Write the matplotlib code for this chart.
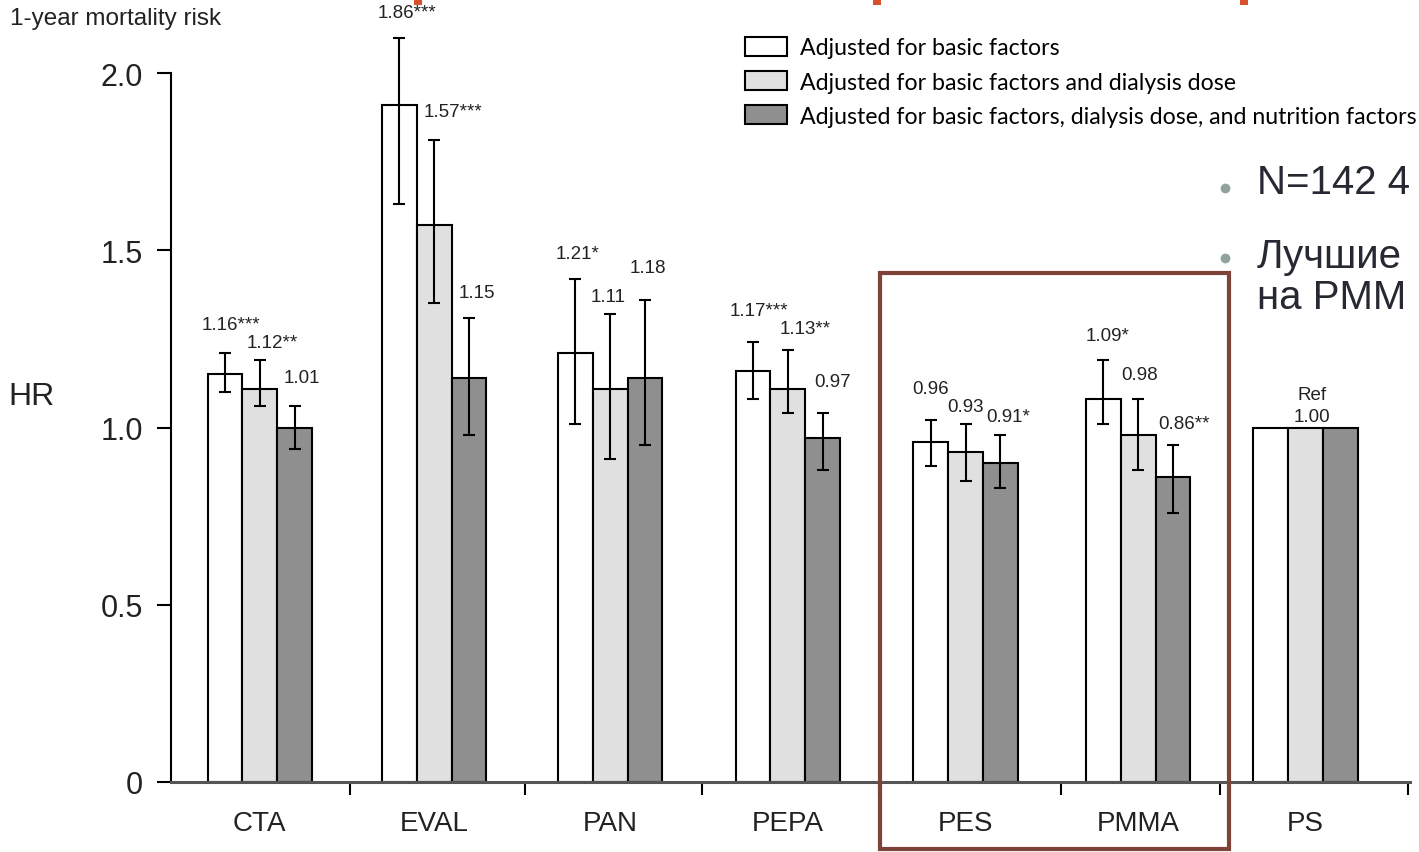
import numpy as np
import matplotlib.pyplot as plt
from matplotlib.patches import Rectangle
from matplotlib.lines import Line2D

plt.rcParams['font.family'] = ['Liberation Sans', 'DejaVu Sans']

groups = ['CTA', 'EVAL', 'PAN', 'PEPA', 'PES', 'PMMA', 'PS']
series = ['Adjusted for basic factors',
          'Adjusted for basic factors and dialysis dose',
          'Adjusted for basic factors, dialysis dose, and nutrition factors']

# bar heights as drawn in the figure
hr_basic = [1.15, 1.91, 1.21, 1.16, 0.96, 1.08, 1.00]
hr_dose = [1.11, 1.57, 1.11, 1.11, 0.93, 0.98, 1.00]
hr_nutr = [1.00, 1.14, 1.14, 0.97, 0.90, 0.86, 1.00]

# confidence intervals (PS is the reference, no interval)
lo_basic = [1.10, 1.63, 1.01, 1.08, 0.89, 1.01]
hi_basic = [1.21, 2.10, 1.42, 1.24, 1.02, 1.19]
lo_dose = [1.06, 1.35, 0.91, 1.04, 0.85, 0.88]
hi_dose = [1.19, 1.81, 1.32, 1.22, 1.01, 1.08]
lo_nutr = [0.94, 0.98, 0.95, 0.88, 0.83, 0.76]
hi_nutr = [1.06, 1.31, 1.36, 1.04, 0.98, 0.95]

lab_basic = ['1.16***', '1.86***', '1.21*', '1.17***', '0.96', '1.09*']
lab_dose = ['1.12**', '1.57***', '1.11', '1.13**', '0.93', '0.98']
lab_nutr = ['1.01', '1.15', '1.18', '0.97', '0.91*', '0.86**']

# layout of the value labels: height (HR units) and left shift from bar centre (px)
laby_basic = [1.29, 2.17, 1.49, 1.33, 1.11, 1.26]
laby_dose = [1.24, 1.89, 1.37, 1.28, 1.06, 1.15]
laby_nutr = [1.14, 1.38, 1.45, 1.13, 1.03, 1.01]
labdx_basic = [-23, -22, -20, -23, -19, -18]
labdx_dose = [-13, -11, -20, -8, -18, -17]
labdx_nutr = [-11, -10, -15, -8, -14, -15]

xpos = np.array([0, 1, 2.01, 3.03, 4.05, 5.04, 6])
seps = [0.52, 1.52, 2.54, 3.55, 4.6, 5.51, 6.59]

W, H = 1419, 853
fig = plt.figure(figsize=(W / 100, H / 100), dpi=100)
ax = fig.add_axes([171 / W, 70 / H, (1410 - 171) / W, 783 / H])

w = 0.2
fills = ['white', '#e0e0e0', '#8f8f8f']
hrs = [hr_basic, hr_dose, hr_nutr]
los = [lo_basic, lo_dose, lo_nutr]
his = [hi_basic, hi_dose, hi_nutr]
labs = [lab_basic, lab_dose, lab_nutr]
labys = [laby_basic, laby_dose, laby_nutr]
labdxs = [labdx_basic, labdx_dose, labdx_nutr]

for k in range(3):
    xs = xpos + (k - 1) * w
    h = np.array(hrs[k])
    ax.bar(xs, h, w, color=fills[k], edgecolor='black', linewidth=1.5, label=series[k], zorder=2)
    n = len(los[k])
    err = [h[:n] - np.array(los[k]), np.array(his[k]) - h[:n]]
    ax.errorbar(xs[:n], h[:n], yerr=err, fmt='none', ecolor='black', elinewidth=1.5,
                capsize=4, capthick=1.5, zorder=3, clip_on=False)
    for xi, t, yy, dx in zip(xs, labs[k], labys[k], labdxs[k]):
        ax.annotate(t, (xi, yy), xytext=(dx * 0.72, 0), textcoords='offset points',
                    ha='left', va='center', fontsize=13.5, color='#222222')

ax.text(xpos[6] + 0.04, 1.094, 'Ref', ha='center', va='center', fontsize=13.5, color='#222222')
ax.text(xpos[6] + 0.04, 1.032, '1.00', ha='center', va='center', fontsize=13.5, color='#222222')

ax.set_xlim(-0.51, 6.6)
ax.set_ylim(0, 783 / 354.5)
for s in ['top', 'right']:
    ax.spines[s].set_visible(False)
ax.spines['left'].set_bounds(0, 2)
ax.spines['left'].set_linewidth(1.5)
ax.spines['bottom'].set_linewidth(2.2)
ax.spines['bottom'].set_color('#555555')

ax.set_yticks([0, 0.5, 1.0, 1.5, 2.0])
ax.set_yticklabels(['0', '0.5', '1.0', '1.5', '2.0'])
ax.tick_params(axis='y', length=10, width=1.5, pad=10, labelsize=22, labelcolor='#222222')
ax.set_xticks(xpos)
ax.set_xticklabels(groups)
ax.set_xticks(seps, minor=True)
ax.tick_params(axis='x', which='major', length=0, pad=20, labelsize=20, labelcolor='#222222')
ax.tick_params(axis='x', which='minor', length=9, width=1.5)

ax.legend(loc='upper left', bbox_to_anchor=(745 / W, 1 - 38 / H), bbox_transform=fig.transFigure,
          frameon=False, prop={'family': 'Lato', 'size': 16.7}, handlelength=1.8, handleheight=0.88,
          labelspacing=0.55, handletextpad=0.58, borderpad=0, borderaxespad=0)

fig.text(10 / W, 1 - 19 / H, '1-year mortality risk', fontsize=17.5, va='center', ha='left', color='#222222')
fig.text(8 / W, 1 - 397 / H, 'HR', fontsize=23, va='center', ha='left', color='#222222')

# highlight box around PES / PMMA
fig.add_artist(Rectangle((880 / W, 1 - 850 / H), (1229 - 880) / W, (850 - 274) / H,
                         transform=fig.transFigure, fill=False, edgecolor='#7f4238', linewidth=3))

# slide bullet text on the right (cut off by the slide edge)
for yb in [189, 259]:
    fig.add_artist(Line2D([1225 / W], [1 - yb / H], marker='o', ms=6,
                          color='#8fa39a', transform=fig.transFigure))
fig.text(1257 / W, 1 - 183 / H, 'N=142 4', fontsize=29, va='center', ha='left', color='#262832')
fig.text(1257 / W, 1 - 257 / H, 'Лучшие', fontsize=29, va='center', ha='left', color='#262832')
fig.text(1257 / W, 1 - 298 / H, 'на PMM', fontsize=29, va='center', ha='left', color='#262832')

# bits of the red slide title cut off at the top edge
for xr in [414, 873, 1240]:
    fig.add_artist(Rectangle((xr / W, 1 - 6 / H), 8 / W, 6 / H, transform=fig.transFigure,
                             color='#d9512c', linewidth=0))

fig.savefig('out.png', dpi=100)
